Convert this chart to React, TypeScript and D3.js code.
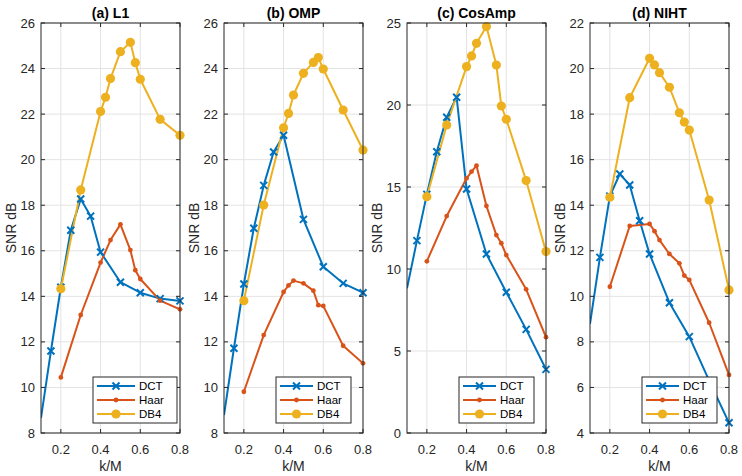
import React from "react";
import * as d3 from "d3";

const panelTitles = ["(a) L1", "(b) OMP", "(c) CosAmp", "(d) NIHT"];
const seriesNames = ["DCT", "Haar", "DB4"];
const seriesColors = ["#0072BD", "#D95319", "#EDB120"];
const xTicks = [0.2, 0.4, 0.6, 0.8];

const kDCT = [0.1, 0.15, 0.2, 0.25, 0.3, 0.35, 0.4, 0.5, 0.6, 0.7, 0.8];
const kHaarA = [0.2, 0.3, 0.4, 0.45, 0.5, 0.55, 0.575, 0.6, 0.7, 0.8];
const kHaar = [0.2, 0.3, 0.4, 0.425, 0.45, 0.5, 0.55, 0.575, 0.6, 0.7, 0.8];
const kDB4 = [0.2, 0.3, 0.4, 0.425, 0.45, 0.5, 0.55, 0.575, 0.6, 0.7, 0.8];

// (a) L1
const dctL1 = [8.66, 11.6, 14.4, 16.9, 18.27, 17.52, 15.94, 14.62, 14.16, 13.9, 13.8];
const haarL1 = [10.44, 13.18, 15.48, 16.47, 17.16, 16.03, 15.15, 14.76, 13.81, 13.43];
const db4L1 = [14.33, 18.67, 22.11, 22.74, 23.56, 24.74, 25.15, 24.26, 23.53, 21.77, 21.07];
// (b) OMP
const dctOMP = [8.79, 11.72, 14.54, 16.99, 18.87, 20.34, 21.07, 17.38, 15.3, 14.57, 14.16];
const haarOMP = [9.81, 12.3, 14.19, 14.48, 14.69, 14.57, 14.25, 13.61, 13.58, 11.83, 11.06];
const db4OMP = [13.81, 18.01, 21.4, 22.03, 22.84, 23.79, 24.27, 24.48, 23.98, 22.18, 20.42];
// (c) CosAmp
const dctCos = [8.82, 11.73, 14.55, 17.15, 19.25, 20.47, 14.88, 10.91, 8.58, 6.32, 3.88];
const haarCos = [10.47, 13.23, 15.53, 15.94, 16.3, 13.84, 12.07, 11.57, 10.85, 8.76, 5.84];
const db4Cos = [14.41, 18.78, 22.34, 22.99, 23.76, 24.78, 22.44, 19.94, 19.13, 15.39, 11.06];
// (d) NIHT
const dctNIHT = [8.79, 11.71, 14.4, 15.37, 14.89, 13.32, 11.86, 9.72, 8.23, 6.3, 4.45];
const haarNIHT = [10.42, 13.09, 13.18, 12.86, 12.47, 11.86, 11.45, 10.91, 10.72, 8.84, 6.55];
const db4NIHT = [14.35, 18.72, 20.45, 20.16, 19.82, 19.18, 18.06, 17.65, 17.3, 14.23, 10.28];

const yTicksL1 = [8, 10, 12, 14, 16, 18, 20, 22, 24, 26];
const yTicksOMP = [8, 10, 12, 14, 16, 18, 20, 22, 24, 26];
const yTicksCos = [0, 5, 10, 15, 20, 25];
const yTicksNIHT = [4, 6, 8, 10, 12, 14, 16, 18, 20, 22];

const panels = [
  { title: panelTitles[0], yTicks: yTicksL1, xs: [kDCT, kHaarA, kDB4], ys: [dctL1, haarL1, db4L1], legW: 84, legLine: 38 },
  { title: panelTitles[1], yTicks: yTicksOMP, xs: [kDCT, kHaar, kDB4], ys: [dctOMP, haarOMP, db4OMP], legW: 75, legLine: 33 },
  { title: panelTitles[2], yTicks: yTicksCos, xs: [kDCT, kHaar, kDB4], ys: [dctCos, haarCos, db4Cos], legW: 75, legLine: 33 },
  { title: panelTitles[3], yTicks: yTicksNIHT, xs: [kDCT, kHaar, kDB4], ys: [dctNIHT, haarNIHT, db4NIHT], legW: 75, legLine: 33 },
];

const W = 742;
const H = 476;
const plotLefts = [41, 224, 407, 590];
const plotW = 139;
const top = 23;
const bottom = 433;
const axisColor = "#262626";
const gridColor = "#e3e3e3";
const font = "'Liberation Sans', Arial, Helvetica, sans-serif";

function Marker({ kind, x, y, color }: { kind: number; x: number; y: number; color: string }) {
  if (kind === 0) {
    const s = 3.5;
    return (
      <path
        d={`M${x - s},${y - s}L${x + s},${y + s}M${x - s},${y + s}L${x + s},${y - s}`}
        stroke={color}
        strokeWidth={2}
        fill="none"
      />
    );
  }
  if (kind === 1) return <circle cx={x} cy={y} r={2.4} fill={color} />;
  return <circle cx={x} cy={y} r={4.6} fill={color} />;
}

function Panel({ p, left }: { p: (typeof panels)[number]; left: number }) {
  const yMin = p.yTicks[0];
  const yMax = p.yTicks[p.yTicks.length - 1];
  const x = d3.scaleLinear().domain([0.1, 0.8]).range([left, left + plotW]);
  const y = d3.scaleLinear().domain([yMin, yMax]).range([bottom, top]);
  const line = d3
    .line<[number, number]>()
    .x((d) => x(d[0]))
    .y((d) => y(d[1]));
  const tl = 4;
  const clipId = `clip-${left}`;
  const legX = left + 52;
  const legY = 377;
  const legH = 46;
  return (
    <g>
      <defs>
        <clipPath id={clipId}>
          <rect x={left} y={top} width={plotW} height={bottom - top} />
        </clipPath>
      </defs>
      <rect x={left} y={top} width={plotW} height={bottom - top} fill="#fff" />
      {xTicks.map((t) => (
        <line key={"gx" + t} x1={x(t)} x2={x(t)} y1={top} y2={bottom} stroke={gridColor} strokeWidth={1} />
      ))}
      {p.yTicks.map((t) => (
        <line key={"gy" + t} x1={left} x2={left + plotW} y1={y(t)} y2={y(t)} stroke={gridColor} strokeWidth={1} />
      ))}
      <g clipPath={`url(#${clipId})`}>
        {p.xs.map((xs, si) => {
          const pts = xs.map((k, i) => [k, p.ys[si][i]] as [number, number]);
          return (
            <g key={"s" + si}>
              <path d={line(pts) || ""} fill="none" stroke={seriesColors[si]} strokeWidth={2} strokeLinejoin="round" />
            </g>
          );
        })}
      </g>
      {p.xs.map((xs, si) => (
        <g key={"m" + si}>
          {xs.map((k, i) =>
            k <= 0.1 ? null : (
              <Marker key={i} kind={si} x={x(k)} y={y(p.ys[si][i])} color={seriesColors[si]} />
            )
          )}
        </g>
      ))}
      {/* axes box */}
      <rect x={left} y={top} width={plotW} height={bottom - top} fill="none" stroke={axisColor} strokeWidth={1} />
      {xTicks.map((t) => (
        <g key={"tx" + t}>
          <line x1={x(t)} x2={x(t)} y1={bottom} y2={bottom - tl} stroke={axisColor} />
          <line x1={x(t)} x2={x(t)} y1={top} y2={top + tl} stroke={axisColor} />
          <text x={x(t)} y={454} textAnchor="middle" fontSize={13} fontFamily={font} fill={axisColor}>
            {t.toFixed(1)}
          </text>
        </g>
      ))}
      {p.yTicks.map((t) => (
        <g key={"ty" + t}>
          <line x1={left} x2={left + tl} y1={y(t)} y2={y(t)} stroke={axisColor} />
          <line x1={left + plotW} x2={left + plotW - tl} y1={y(t)} y2={y(t)} stroke={axisColor} />
          <text x={left - 6} y={y(t) + 4.5} textAnchor="end" fontSize={13} fontFamily={font} fill={axisColor}>
            {t}
          </text>
        </g>
      ))}
      <text x={left + plotW / 2} y={18} textAnchor="middle" fontSize={14} fontWeight="bold" fontFamily={font} fill="#000">
        {p.title}
      </text>
      <text x={left + plotW / 2} y={471} textAnchor="middle" fontSize={14} fontFamily={font} fill={axisColor}>
        k/M
      </text>
      <text
        transform={`translate(${left - 25},${(top + bottom) / 2}) rotate(-90)`}
        textAnchor="middle"
        fontSize={14}
        fontFamily={font}
        fill={axisColor}
      >
        SNR dB
      </text>
      {/* legend */}
      <rect x={legX} y={legY} width={p.legW} height={legH} fill="#fff" stroke={axisColor} strokeWidth={1} />
      {seriesNames.map((n, si) => {
        const cy = legY + 9 + si * 14;
        const lx1 = legX + 4;
        const lx2 = lx1 + p.legLine;
        return (
          <g key={n}>
            <line x1={lx1} x2={lx2} y1={cy} y2={cy} stroke={seriesColors[si]} strokeWidth={2} />
            <Marker kind={si} x={(lx1 + lx2) / 2} y={cy} color={seriesColors[si]} />
            <text x={lx2 + 4} y={cy + 4} fontSize={11.5} fontFamily={font} fill="#000">
              {n}
            </text>
          </g>
        );
      })}
    </g>
  );
}

export default function App() {
  return (
    <svg
      width={W}
      height={H}
      viewBox={`0 0 ${W} ${H}`}
      style={{ position: "absolute", left: 0, top: 0, background: "#fff" }}
    >
      <rect x={0} y={0} width={W} height={H} fill="#fff" />
      {panels.map((p, i) => (
        <Panel key={i} p={p} left={plotLefts[i]} />
      ))}
    </svg>
  );
}
